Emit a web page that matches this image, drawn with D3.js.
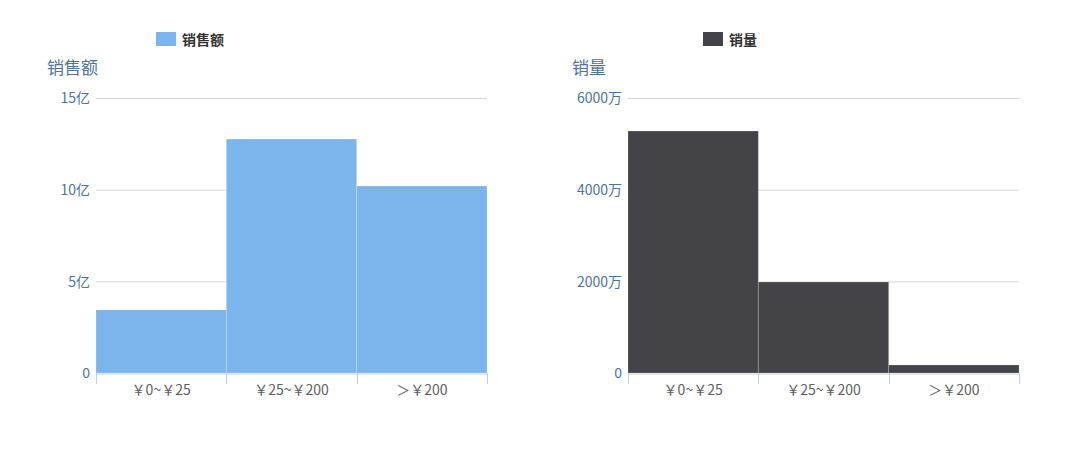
<!DOCTYPE html>
<html>
<head>
<meta charset="utf-8">
<script src="https://cdn.jsdelivr.net/npm/d3@7"></script>
<style>
  body { margin: 0; background: #fff; }
  svg { display: block; font-family: "Noto Sans CJK SC", "Noto Sans", sans-serif; }
  .grid line { stroke: #d8d8d8; }
  .grid .domain { display: none; }
  .ylab text { fill: #4d759e; font-size: 14px; font-family: "Noto Sans CJK SC", sans-serif; }
  .xlab text { fill: #606060; font-size: 14px; font-family: "Noto Sans CJK SC", sans-serif; }
</style>
</head>
<body>
<svg id="chart" width="1066" height="453"></svg>
<script>
// price ranges and the two series
const categories = ['￥0~￥25', '￥25~￥200', '＞￥200'];
const salesAmount = [3.44e8, 12.76e8, 10.2e8];   // 销售额
const salesVolume = [5280e4, 1985e4, 175e4];      // 销量
const amountTicks = [0, 5e8, 10e8, 15e8];
const volumeTicks = [0, 2e7, 4e7, 6e7];

const svg = d3.select('#chart');

const panels = [
  {
    name: '销售额', values: salesAmount, ticks: amountTicks, color: '#7cb5ec',
    fmt: v => v === 0 ? '0' : (v / 1e8) + '亿',
    left: 96, right: 487, titleX: 47, legendX: 156
  },
  {
    name: '销量', values: salesVolume, ticks: volumeTicks, color: '#434348',
    fmt: v => v === 0 ? '0' : (v / 1e4) + '万',
    left: 628, right: 1019, titleX: 572, legendX: 703
  }
];

const plotTop = 98, plotBottom = 373;

panels.forEach(p => {
  let x = d3.scaleBand().domain(categories).range([p.left, p.right]).padding(0);
  let y = d3.scaleLinear()
    .domain([0, d3.max(p.ticks)])
    .range([plotBottom, plotTop]);

  // gridlines
  svg.append('g')
    .attr('class', 'grid')
    .attr('transform', 'translate(' + p.left + ',0)')
    .call(d3.axisLeft(y).tickValues(p.ticks.slice(1)).tickSize(-(p.right - p.left)).tickFormat(''));

  // y labels
  let ya = svg.append('g')
    .attr('class', 'ylab')
    .attr('transform', 'translate(' + (p.left - 6) + ',0)')
    .call(d3.axisLeft(y).tickValues(p.ticks).tickSize(0).tickPadding(0).tickFormat(p.fmt));
  ya.select('.domain').remove();
  ya.selectAll('text').attr('dy', '0.35em');

  // bars
  svg.append('g')
    .selectAll('rect')
    .data(p.values)
    .join('rect')
    .attr('x', (d, i) => x(categories[i]))
    .attr('y', d => y(d))
    .attr('width', x.bandwidth())
    .attr('height', d => y(0) - y(d))
    .attr('fill', p.color)
    .attr('stroke', 'rgba(255,255,255,0.2)')
    .attr('stroke-width', 1);

  // x axis line, boundary ticks, labels
  let xa = svg.append('g')
    .attr('class', 'xlab')
    .attr('transform', 'translate(0,' + (plotBottom + 0.5) + ')')
    .call(d3.axisBottom(x).tickSize(0).tickPadding(12));
  xa.select('.domain').attr('stroke', '#c0d0e0');

  let bounds = categories.map(c => x(c)).concat([x.range()[1]]);
  svg.append('g')
    .selectAll('line')
    .data(bounds)
    .join('line')
    .attr('x1', d => Math.round(d) + 0.5)
    .attr('x2', d => Math.round(d) + 0.5)
    .attr('y1', plotBottom)
    .attr('y2', plotBottom + 11)
    .attr('stroke', '#c0d0e0');

  // axis title
  svg.append('text')
    .attr('x', p.titleX)
    .attr('y', 74)
    .attr('fill', '#4d759e')
    .style('font-size', '17px')
    .text(p.name);

  // legend
  svg.append('rect')
    .attr('x', p.legendX)
    .attr('y', 32)
    .attr('width', 20)
    .attr('height', 14)
    .attr('fill', p.color);
  svg.append('text')
    .attr('x', p.legendX + 26)
    .attr('y', 44.5)
    .attr('fill', '#333')
    .style('font-size', '14px')
    .style('font-weight', 'bold')
    .text(p.name);
});
</script>
</body>
</html>
